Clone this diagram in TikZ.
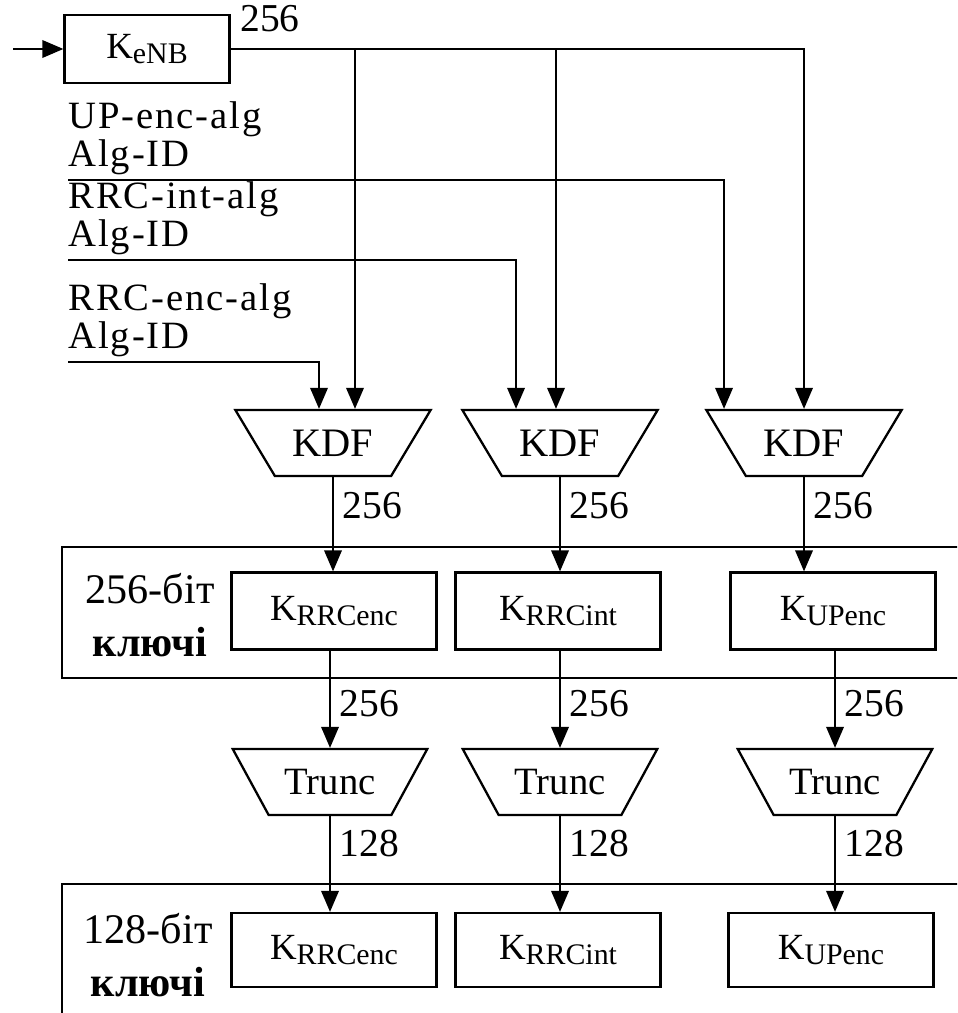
\documentclass[tikz,border=0pt]{standalone}
\usepackage{fontspec}
\setmainfont{Liberation Serif}
\usetikzlibrary{shapes.geometric, arrows.meta, positioning}

\newcommand{\keyname}[2]{#1\raisebox{-0.3ex}{\fontsize{17}{17}\selectfont #2}}

\begin{document}
\begin{tikzpicture}[x=0.02cm, y=-0.02cm,
    keybox/.style={rectangle, draw=black, line width=1.3pt,
                   minimum width=4.1cm, minimum height=1.54cm,
                   font=\fontsize{21}{21}\selectfont},
    funcbox/.style={trapezium, shape border rotate=180, draw=black, line width=1.3pt,
                    trapezium angle=44, trapezium stretches=true,
                    minimum width=3.92cm, minimum height=1.32cm, inner sep=0pt,
                    font=\fontsize{23}{23}\selectfont},
    algtext/.style={anchor=south west, align=left, inner xsep=0pt, inner ysep=3pt,
                    font=\fontsize{22}{21.5}\selectfont\addfontfeatures{LetterSpace=5}},
    bandtext/.style={align=center, font=\fontsize{24}{30}\selectfont},
    num/.style={anchor=west, inner xsep=5pt, font=\fontsize{22.5}{24}\selectfont},
    band/.style={draw=black, line width=1.3pt},
    arrow/.style={-{Triangle[length=12pt, width=10pt]}, line width=1.1pt}
]
\useasboundingbox (0,0) rectangle (957,1013);
\clip (0,0) rectangle (957,1013);

% key bands
\draw[band] (62,547) rectangle (1000,678);
\draw[band] (62,884) rectangle (1000,1100);

\coordinate (in) at (13,49);
\node (kenb) [keybox, minimum width=3.3cm, minimum height=1.36cm] at (147,49) {\keyname{K}{eNB}};
\draw[arrow] (in) -- (kenb.west);

\node (upalg)  [algtext] at (68,180) {UP-enc-alg\\Alg-ID};
\node (intalg) [algtext] at (68,260) {RRC-int-alg\\Alg-ID};
\node (encalg) [algtext] at (68,362) {RRC-enc-alg\\Alg-ID};

\node (kdfenc) [funcbox] at (333,443) {KDF};
\node (kdfint) [funcbox] at (560,443) {KDF};
\node (kdfup)  [funcbox] at (804,443) {KDF};

% K_eNB bus
\coordinate (busenc) at (355,49);
\coordinate (busint) at (556,49);
\draw[arrow] (kenb.east) node[num, anchor=south west, yshift=0.2cm] {256} -| (kdfup.north);
\draw[arrow] (busenc) -- (busenc |- kdfenc.north);
\draw[arrow] (busint) -- (busint |- kdfint.north);

% algorithm ids
\draw[arrow] (upalg.south west)  -| ([xshift=-1.6cm]kdfup.north);
\draw[arrow] (intalg.south west) -| ([xshift=-0.88cm]kdfint.north);
\draw[arrow] (encalg.south west) -| ([xshift=-0.28cm]kdfenc.north);

% 256-bit keys
\node (lab256)  [bandtext] at (150,615) {256-біт\\\textbf{ключі}};
\node (encfull) [keybox] at (334,611) {\keyname{K}{RRCenc}};
\node (intfull) [keybox] at (558,611) {\keyname{K}{RRCint}};
\node (upfull)  [keybox] at (833,611) {\keyname{K}{UPenc}};

\draw[arrow] (kdfenc.south) -- node[num, pos=0.3] {256} (kdfenc.south |- encfull.north);
\draw[arrow] (kdfint.south) -- node[num, pos=0.3] {256} (kdfint.south |- intfull.north);
\draw[arrow] (kdfup.south)  -- node[num, pos=0.3] {256} (kdfup.south |- upfull.north);

\node (trenc) [funcbox, font=\fontsize{22}{22}\selectfont] at (330,782) {Trunc};
\node (trint) [funcbox, font=\fontsize{22}{22}\selectfont] at (560,782) {Trunc};
\node (trup)  [funcbox, font=\fontsize{22}{22}\selectfont] at (835,782) {Trunc};

\draw[arrow] (trenc.north |- encfull.south) -- node[num, pos=0.54] {256} (trenc.north);
\draw[arrow] (trint.north |- intfull.south) -- node[num, pos=0.54] {256} (trint.north);
\draw[arrow] (trup.north |- upfull.south)   -- node[num, pos=0.54] {256} (trup.north);

% 128-bit keys
\node (lab128)   [bandtext] at (148,955) {128-біт\\\textbf{ключі}};
\node (encshort) [keybox, minimum height=1.48cm] at (334,950) {\keyname{K}{RRCenc}};
\node (intshort) [keybox, minimum height=1.48cm] at (558,950) {\keyname{K}{RRCint}};
\node (upshort)  [keybox, minimum height=1.48cm] at (831,950) {\keyname{K}{UPenc}};

\draw[arrow] (trenc.south) -- node[num, pos=0.29] {128} (trenc.south |- encshort.north);
\draw[arrow] (trint.south) -- node[num, pos=0.29] {128} (trint.south |- intshort.north);
\draw[arrow] (trup.south)  -- node[num, pos=0.29] {128} (trup.south |- upshort.north);
\end{tikzpicture}
\end{document}
